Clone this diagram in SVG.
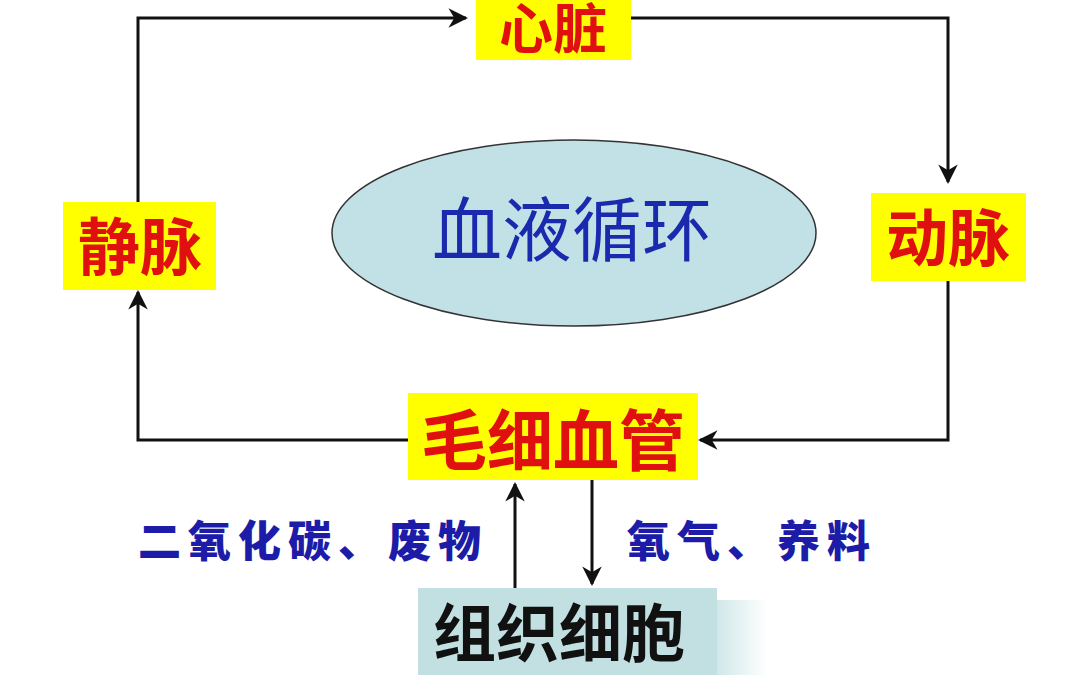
<svg xmlns="http://www.w3.org/2000/svg" width="1080" height="690" viewBox="0 0 1080 690">
<defs>
<style>
.ybox{fill:#ffff00;}
.red{fill:#e01010;font-family:"Noto Sans CJK SC",sans-serif;font-weight:bold;text-anchor:middle;}
.blue{fill:#1c1ca8;font-family:"Noto Sans CJK SC",sans-serif;font-weight:900;font-size:43px;letter-spacing:7px;}
.ln{fill:none;stroke:#111;stroke-width:3;}
</style>
<marker id="ah" viewBox="0 0 10 10" refX="9" refY="5" markerWidth="6.5" markerHeight="6.5" orient="auto" markerUnits="strokeWidth">
<path d="M0,0 L10,5 L0,10 L3,5 z" fill="#111"/>
</marker>
<linearGradient id="fade" x1="0" x2="1" y1="0" y2="0">
<stop offset="0" stop-color="#c4e1e3" stop-opacity="0.8"/>
<stop offset="1" stop-color="#c4e1e3" stop-opacity="0"/>
</linearGradient>
</defs>
<rect width="1080" height="690" fill="#ffffff"/>
<g id="connectors">
<path class="ln" d="M138,202 V18 H466" marker-end="url(#ah)"/>
<path class="ln" d="M631,18 H948 V182" marker-end="url(#ah)"/>
<path class="ln" d="M948,281 V440 H700" marker-end="url(#ah)"/>
<path class="ln" d="M408,440 H138 V292" marker-end="url(#ah)"/>
<path class="ln" d="M515,588 V484" marker-end="url(#ah)"/>
<path class="ln" d="M592,480 V584" marker-end="url(#ah)"/>
</g>
<g id="heart">
<rect class="ybox" x="476" y="-2" width="155" height="62"/>
<text class="red" x="553" y="49" font-size="54">心脏</text>
</g>
<g id="vein">
<rect class="ybox" x="63" y="202" width="153" height="88"/>
<text class="red" x="140" y="270" font-size="62">静脉</text>
</g>
<g id="artery">
<rect class="ybox" x="871" y="193" width="155" height="88"/>
<text class="red" x="948" y="261" font-size="62">动脉</text>
</g>
<g id="capillary">
<rect class="ybox" x="408" y="393" width="290" height="87"/>
<text class="red" x="553" y="465" font-size="66">毛细血管</text>
</g>
<g id="cycle">
<ellipse cx="574" cy="233" rx="242" ry="93" fill="#c2e1e6" stroke="#333" stroke-width="1.5"/>
<text x="572" y="256" font-size="70" fill="#1a2aae" text-anchor="middle" font-family="Noto Sans CJK SC,sans-serif">血液循环</text>
</g>
<g id="tissue">
<rect x="717" y="600" width="50" height="75" fill="url(#fade)"/>
<rect x="418" y="588" width="299" height="87" fill="#c2e0e2"/>
<text x="559" y="656" font-size="63" font-weight="bold" fill="#111" text-anchor="middle" font-family="Noto Sans CJK SC,sans-serif">组织细胞</text>
</g>
<g id="labels">
<text class="blue" x="138" y="557">二氧化碳、废物</text>
<text class="blue" x="627" y="557">氧气、养料</text>
</g>
</svg>
